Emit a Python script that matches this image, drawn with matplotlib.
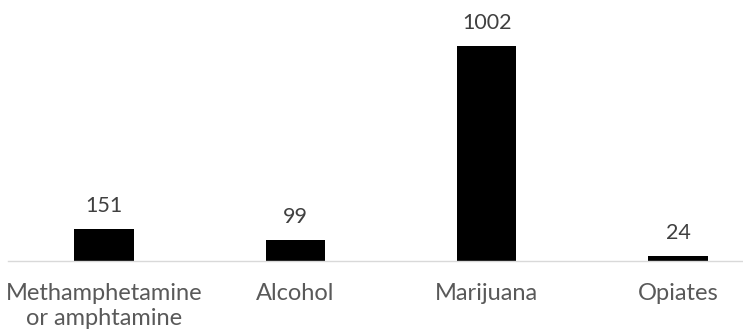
import matplotlib
matplotlib.use("Agg")
import matplotlib.pyplot as plt

categories = ["Methamphetamine\nor amphtamine", "Alcohol", "Marijuana", "Opiates"]
counts = [151, 99, 1002, 24]

plt.rcParams['font.family'] = ['Lato', 'DejaVu Sans']

W, H = 743, 332
fig = plt.figure(figsize=(W / 100, H / 100), dpi=100)
base = 261
px_per_unit = 215.3 / 1002
top = 1200
ax = fig.add_axes([8.4 / W, (H - base) / H, 765.2 / W, top * px_per_unit / H])

x = range(len(categories))
bars = ax.bar(x, counts, width=0.31, color='black')
ax.set_xlim(-0.5, 3.5)
ax.set_ylim(0, top)

for b, v in zip(bars, counts):
    ax.annotate(str(v), (b.get_x() + b.get_width() / 2, v), xytext=(0, 9),
                textcoords='offset points', ha='center', va='bottom',
                fontsize=15.5, color='#404040')

ax.set_xticks(list(x))
ax.set_xticklabels(categories, fontsize=17, color='#595959', linespacing=1.22)
ax.tick_params(axis='x', length=0, pad=16)
ax.set_yticks([])
for s in ['top', 'left', 'right']:
    ax.spines[s].set_visible(False)
ax.spines['bottom'].set_color('#d9d9d9')
ax.spines['bottom'].set_linewidth(1)

fig.savefig('out.png', dpi=100)
